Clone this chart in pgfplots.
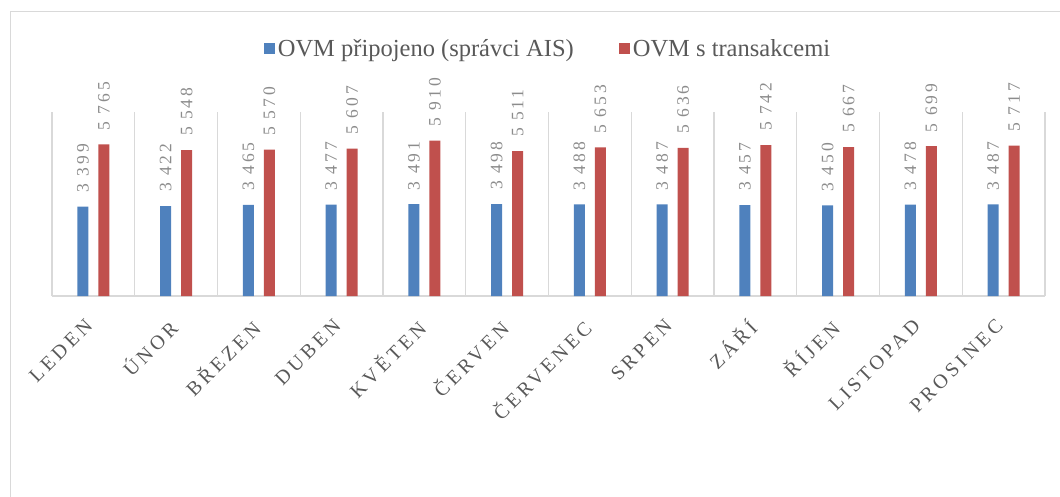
\documentclass[border=0pt]{standalone}
\usepackage{pgfplots}
\pgfplotsset{compat=1.18}
\usepackage{fontspec}
\setmainfont{Liberation Serif}
\newfontfamily\valfont{Liberation Serif}[LetterSpace=17]
\newfontfamily\catfont{Liberation Serif}[LetterSpace=18]
\definecolor{ovmblue}{HTML}{4F81BD}
\definecolor{ovmred}{HTML}{C0504D}
\definecolor{gridgray}{HTML}{D9D9D9}
\definecolor{txtgray}{HTML}{595959}
\definecolor{valgray}{HTML}{8C8C8C}

\begin{document}
\begin{tikzpicture}[x=1pt,y=1pt]
% outer chart frame
\draw[gridgray, line width=1pt] (10,-20) rectangle (1080,484);
\begin{axis}[
  at={(52pt,200pt)}, anchor=south west,
  scale only axis, width=993pt, height=184pt,
  ymin=0, ymax=7000, xmin=-0.5, xmax=11.5,
  axis y line=none, axis x line*=bottom,
  x axis line style={draw=gridgray, line width=2pt, -},
  xtick={0,...,11}, major tick length=0pt,
  minor xtick={-0.5,0.5,...,11.5}, xminorgrids,
  minor grid style={draw=gridgray, line width=1.3pt}, minor tick length=0pt,
  xticklabels={LEDEN, ÚNOR, BŘEZEN, DUBEN, KVĚTEN, ČERVEN, ČERVENEC, SRPEN, ZÁŘÍ, ŘÍJEN, LISTOPAD, PROSINEC},
  xticklabel style={xshift=-9pt, yshift=-17pt, rotate=45, anchor=north east,
    font=\catfont\fontsize{20}{20}\selectfont, text=txtgray},
  ybar=10pt, bar width=11pt,
  nodes near coords={\valfont\pgfmathprintnumber[1000 sep={\ }, assume math mode=true]{\pgfplotspointmeta}},
  every node near coord/.append style={rotate=90, anchor=west, inner xsep=14pt,
    font=\fontsize{17.5}{17.5}\selectfont, text=valgray},
  legend style={at={(0.5,1.345)}, anchor=center, draw=none, legend columns=2,
    font=\fontsize{24.5}{26}\selectfont, text=txtgray,
    /tikz/every even column/.style={column sep=42pt},
    nodes={inner xsep=3pt}},
  legend image code/.code={\fill[#1] (0pt,-5.5pt) rectangle (11pt,5.5pt);},
]
\addplot[fill=ovmblue, draw=none] coordinates {
  (0,3399) (1,3422) (2,3465) (3,3477) (4,3491) (5,3498)
  (6,3488) (7,3487) (8,3457) (9,3450) (10,3478) (11,3487)};
\addlegendentry{OVM připojeno (správci AIS)}
\addplot[fill=ovmred, draw=none] coordinates {
  (0,5765) (1,5548) (2,5570) (3,5607) (4,5910) (5,5511)
  (6,5653) (7,5636) (8,5742) (9,5667) (10,5699) (11,5717)};
\addlegendentry{OVM s transakcemi}
\end{axis}
\pgfresetboundingbox
\path[use as bounding box] (0,0) rectangle (1060,496);
\end{tikzpicture}
\end{document}
